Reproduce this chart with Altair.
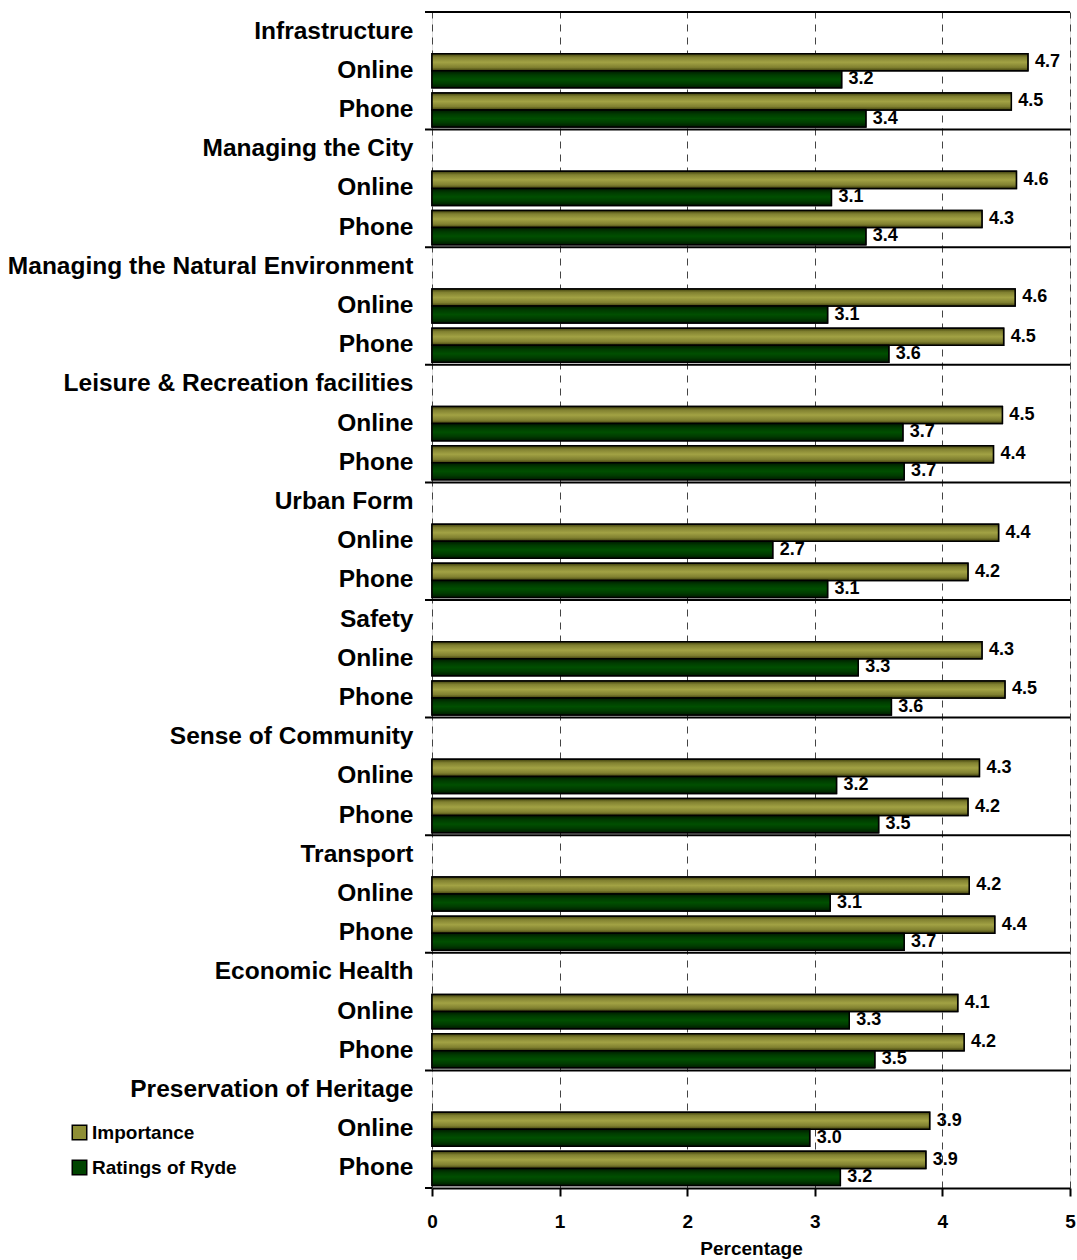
import altair as alt
import pandas as pd

groups = ["Infrastructure", "Managing the City", "Managing the Natural Environment",
          "Leisure & Recreation facilities", "Urban Form", "Safety", "Sense of Community",
          "Transport", "Economic Health", "Preservation of Heritage"]
modes = ["Online", "Phone"]
series = ["Importance", "Ratings of Ryde"]
online_importance = [4.67, 4.58, 4.57, 4.47, 4.44, 4.31, 4.29, 4.21, 4.12, 3.90]
online_ratings = [3.21, 3.13, 3.10, 3.69, 2.67, 3.34, 3.17, 3.12, 3.27, 2.96]
phone_importance = [4.54, 4.31, 4.48, 4.40, 4.20, 4.49, 4.20, 4.41, 4.17, 3.87]
phone_ratings = [3.40, 3.40, 3.58, 3.70, 3.10, 3.60, 3.50, 3.70, 3.47, 3.20]
x_ticks = [0, 1, 2, 3, 4, 5]

FONT = "Liberation Sans"
W, H = 638, 1176

domain = []
for g in groups:
    domain += [g, g + "|Online", g + "|Phone"]

rows = []
for i, g in enumerate(groups):
    rows.append({"key": g + "|Online", "series": series[0], "value": online_importance[i]})
    rows.append({"key": g + "|Online", "series": series[1], "value": online_ratings[i]})
    rows.append({"key": g + "|Phone", "series": series[0], "value": phone_importance[i]})
    rows.append({"key": g + "|Phone", "series": series[1], "value": phone_ratings[i]})
df = pd.DataFrame(rows)
sep_df = pd.DataFrame({"key": groups})
bottom_df = pd.DataFrame({"key": [groups[-1] + "|Phone"]})

label_expr = ("indexof(datum.label, '|') >= 0 ? "
              "slice(datum.label, indexof(datum.label, '|') + 1) : datum.label")

yscale = alt.Scale(domain=domain, paddingInner=0, paddingOuter=0)
yaxis = alt.Axis(labelExpr=label_expr, ticks=False, domain=False, grid=False,
                 labelFontSize=24.5, labelFontWeight="bold", labelFont=FONT,
                 labelColor="black", labelPadding=19, labelLimit=500)
xscale = alt.Scale(domain=[0, 5], nice=False)
xaxis = alt.Axis(values=x_ticks, title="Percentage", grid=True, gridDash=[7, 6],
                 gridColor="#444444", gridWidth=1, domainColor="black", domainWidth=2,
                 tickColor="black", tickWidth=2, tickSize=8, labelFontSize=19,
                 labelFontWeight="bold", labelFont=FONT, labelColor="black",
                 labelPadding=16, labelFlush=False, titleFontSize=19, titleFontWeight="bold",
                 titleFont=FONT, titleColor="black", titlePadding=8, format="d")

def Y(**kw):
    return alt.Y("key:N", scale=yscale, axis=yaxis, title=None, **kw)

def X():
    return alt.X("value:Q", scale=xscale, axis=xaxis)

yoff = alt.YOffset("series:N", scale=alt.Scale(domain=series, paddingInner=0, paddingOuter=0.15))

base = alt.Chart(df)

legend_bars = base.mark_bar(stroke="black", strokeWidth=1.5).encode(
    x=X(), y=Y(), yOffset=yoff,
    color=alt.Color("series:N",
                    scale=alt.Scale(domain=series, range=["#8f8f35", "#004400"]),
                    legend=alt.Legend(orient="none", legendX=-362, legendY=1111, title=None,
                                      symbolType="square", symbolSize=210,
                                      symbolStrokeColor="black", symbolStrokeWidth=1.5,
                                      labelFontSize=19, labelFontWeight="bold",
                                      labelFont=FONT, labelColor="black",
                                      rowPadding=14, labelOffset=3, padding=0,
                                      direction="vertical")),
)

imp_grad = alt.Gradient(gradient="linear", x1=0, y1=0, x2=0, y2=1, stops=[
    alt.GradientStop(color="#3e3e0c", offset=0),
    alt.GradientStop(color="#808030", offset=0.2),
    alt.GradientStop(color="#a2a244", offset=0.5),
    alt.GradientStop(color="#808030", offset=0.8),
    alt.GradientStop(color="#3e3e0c", offset=1),
])
rat_grad = alt.Gradient(gradient="linear", x1=0, y1=0, x2=0, y2=1, stops=[
    alt.GradientStop(color="#001a00", offset=0),
    alt.GradientStop(color="#003c00", offset=0.25),
    alt.GradientStop(color="#004f00", offset=0.5),
    alt.GradientStop(color="#003c00", offset=0.75),
    alt.GradientStop(color="#001a00", offset=1),
])

imp_bars = base.transform_filter(alt.datum.series == series[0]).mark_bar(
    fill=imp_grad, stroke="black", strokeWidth=1.5).encode(x=X(), y=Y(), yOffset=yoff)
rat_bars = base.transform_filter(alt.datum.series == series[1]).mark_bar(
    fill=rat_grad, stroke="black", strokeWidth=1.5).encode(x=X(), y=Y(), yOffset=yoff)

labels = base.mark_text(align="left", baseline="middle", dx=7, fontSize=18,
                        fontWeight="bold", font=FONT, color="black").encode(
    x=X(), y=Y(), yOffset=yoff, text=alt.Text("value:Q", format=".1f"))

seps = alt.Chart(sep_df).mark_rule(color="black", strokeWidth=2).encode(
    y=Y(bandPosition=0), x=alt.value(-7), x2=alt.value(W))
bottom = alt.Chart(bottom_df).mark_rule(color="black", strokeWidth=2).encode(
    y=Y(bandPosition=1), x=alt.value(-7), x2=alt.value(0))

chart = alt.layer(legend_bars, imp_bars, rat_bars, labels, seps, bottom).properties(
    width=W, height=H,
    autosize=alt.AutoSizeParams(type="none"),
    padding={"left": 432, "top": 12, "right": 7, "bottom": 72},
).configure_view(stroke="black", strokeWidth=2).configure(background="white")

chart.save("out.html", embed_options={"renderer": "svg", "actions": False})
